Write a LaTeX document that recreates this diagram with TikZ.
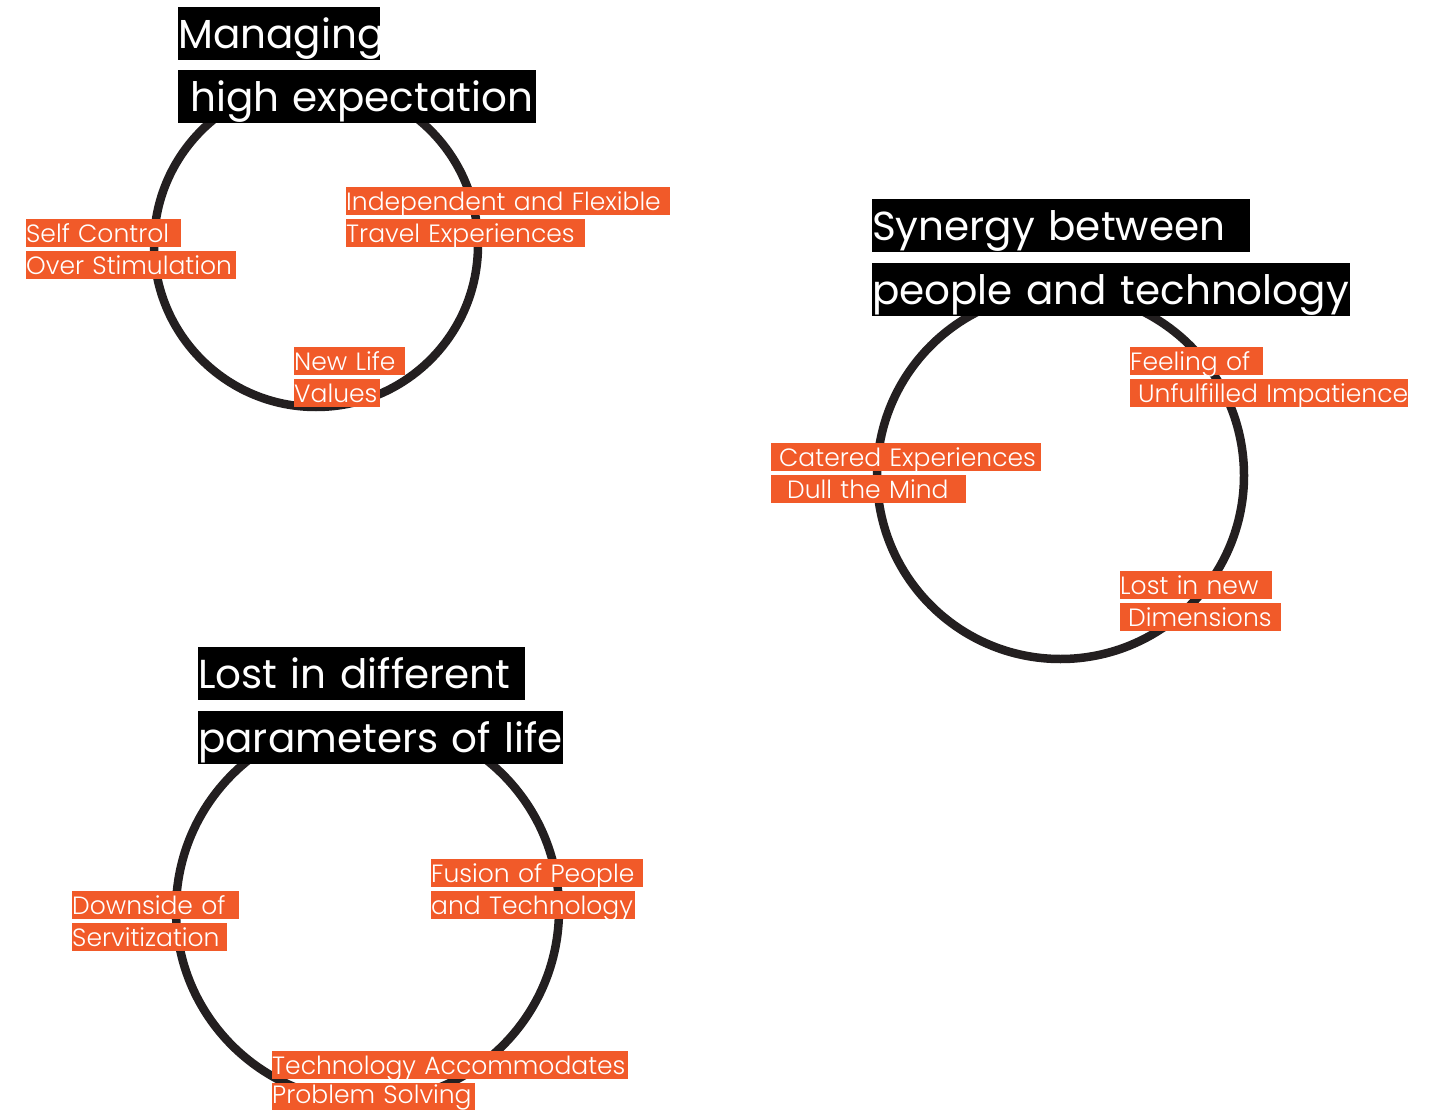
\documentclass[tikz,border=0pt]{standalone}
\usepackage{fontspec}
\setmainfont{Poppins}
\newfontfamily\headfont{Poppins}
\newfontfamily\tagfont{Poppins Light}
\definecolor{ringgray}{HTML}{231F20}
\definecolor{tagorange}{HTML}{F15A29}

\begin{document}
\begin{tikzpicture}[x=1pt, y=-1pt,
  ring/.style={draw=ringgray, line width=8.5pt},
  headline/.style={fill=black, text=white, anchor=north west, inner sep=0pt,
    minimum height=53pt, text height=29pt, text depth=0pt, align=left,
    font=\headfont\fontsize{40.5}{44}\selectfont},
  tagline/.style={fill=tagorange, text=white, anchor=north west, inner sep=0pt,
    minimum height=28pt, text height=18pt, text depth=0pt, align=left,
    font=\tagfont\fontsize{25}{28}\selectfont}]
\useasboundingbox (0,0) rectangle (1451,1110);
\draw [ring] (316,245) circle (162pt);
\draw [ring] (1060.5,475.5) circle (183.5pt);
\draw [ring] (367.5,910) circle (191.5pt);
\node [headline, text width=202pt] (m1) at (178,7) {Managing};
\node [headline, text width=358pt] (m2) at (178,70) {\hspace*{12pt}high expectation};
\node [tagline, text width=155pt] (s1) at (26,219) {Self Control};
\node [tagline, text width=210pt] (s2) at (26,251) {Over Stimulation};
\node [tagline, text width=324pt] (i1) at (346,187) {Independent and Flexible};
\node [tagline, text width=239pt] (i2) at (346,219) {Travel Experiences};
\node [tagline, text width=111pt] (n1) at (294,347) {New Life};
\node [tagline, text width=86pt] (n2) at (294,379) {Values};
\node [headline, text width=378pt] (y1) at (872,199) {Synergy between};
\node [headline, text width=478pt] (y2) at (872,263) {people and technology};
\node [tagline, text width=133pt] (f1) at (1130,347) {Feeling of};
\node [tagline, text width=278pt] (f2) at (1130,379) {\hspace*{8pt}Unfulfilled Impatience};
\node [tagline, text width=270pt] (c1) at (771,443) {\hspace*{8pt}Catered Experiences};
\node [tagline, text width=195pt] (c2) at (771,475) {\hspace*{16pt}Dull the Mind};
\node [tagline, text width=152pt] (l1) at (1120,571) {Lost in new};
\node [tagline, text width=161pt] (l2) at (1120,603) {\hspace*{8pt}Dimensions};
\node [headline, text width=327pt] (p1) at (198,647) {Lost in different};
\node [headline, text width=365pt] (p2) at (198,711) {parameters of life};
\node [tagline, text width=167pt] (d1) at (72,891) {Downside of};
\node [tagline, text width=155pt] (d2) at (72,923) {Servitization};
\node [tagline, text width=212pt] (u1) at (431,859) {Fusion of People};
\node [tagline, text width=204pt] (u2) at (431,891) {and Technology};
\node [tagline, text width=356pt] (t1) at (272,1051) {Technology Accommodates};
\node [tagline, text width=203pt, minimum height=27pt, text height=19pt,
  text depth=6pt] (t2) at (272,1083) {Problem Solving};
\end{tikzpicture}
\end{document}
